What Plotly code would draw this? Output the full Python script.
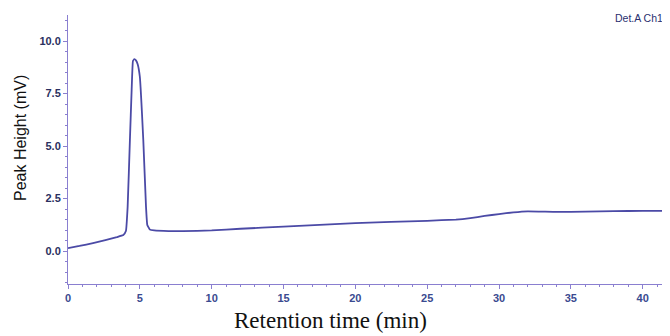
import plotly.graph_objects as go

# Retention time (min) and detector signal (mV)
time_min = [0.0, 0.8, 1.74, 2.6, 3.4, 3.85, 4.03, 4.15, 4.31, 4.43, 4.52, 4.62, 4.73, 4.85,
            5.0, 5.24, 5.43, 5.52, 5.7, 6.0, 7.0, 8.0, 10.0, 12.0, 15.0, 20.0, 25.0, 27.0,
            28.0, 29.0, 30.0, 31.0, 32.0, 34.0, 36.0, 38.0, 40.0, 42.0]
signal_mv = [0.14, 0.24, 0.38, 0.52, 0.66, 0.76, 0.95, 2.1, 5.3, 7.67, 9.05, 9.14, 9.08, 8.9,
             8.3, 5.29, 2.1, 1.24, 1.02, 0.98, 0.95, 0.95, 0.98, 1.06, 1.16, 1.33, 1.44, 1.5,
             1.57, 1.67, 1.76, 1.84, 1.89, 1.86, 1.88, 1.9, 1.91, 1.92]

x_ticks = [0, 5, 10, 15, 20, 25, 30, 35, 40]
y_ticks = [0.0, 2.5, 5.0, 7.5, 10.0]
y_tick_text = ["0.0", "2.5", "5.0", "7.5", "10.0"]

axis_color = "#8a7fd0"
line_color = "#4b4aa6"

# page body has an 8px default margin; size the figure so it fits the 670x336 window
OFF = 8
W, H = 670 - OFF, 336 - OFF
l, r, t, b = 68 - OFF, 0, 15 - OFF, 52
pw, ph = W - l - r, H - t - b


def px_to_paper(px, py):
    return (px - OFF - l) / pw, (H - b - (py - OFF)) / ph


fig = go.Figure()
fig.add_trace(go.Scatter(x=time_min, y=signal_mv, mode="lines",
                         line=dict(color=line_color, width=1.8, shape="spline", smoothing=0.3),
                         showlegend=False, hoverinfo="skip"))

ann_specs = [
    ("Peak Height (mV)", 20, 138, -90, 16, "#111111", "Liberation Sans, Arial, sans-serif", "normal"),
    ("Retention time (min)", 330, 321, 0, 23, "#111111", "Liberation Serif, Times New Roman, serif", "normal"),
    ("Det.A Ch1", 639, 18, 0, 10.5, "#2a3070", "Liberation Sans, Arial, sans-serif", "normal"),
]
annotations = []
for text, px, py, ang, size, col, fam, wt in ann_specs:
    ax, ay = px_to_paper(px, py)
    annotations.append(dict(text=text, x=ax, y=ay, xref="paper", yref="paper",
                            xanchor="center", yanchor="middle", showarrow=False,
                            textangle=ang, font=dict(size=size, color=col, family=fam, weight=wt)))

fig.update_layout(
    width=W, height=H,
    margin=dict(l=l, r=r, t=t, b=b),
    paper_bgcolor="white", plot_bgcolor="white",
    font=dict(family="Liberation Sans, Arial, sans-serif"),
    xaxis=dict(range=[0, 41.9], tickvals=x_ticks, ticks="outside", ticklen=4,
               tickcolor=axis_color, showline=True, linecolor=axis_color, linewidth=1,
               showgrid=False, zeroline=False,
               tickfont=dict(size=11, color="#3a4a90", weight="bold"),
               minor=dict(dtick=1, ticks="outside", ticklen=2, tickcolor=axis_color)),
    yaxis=dict(range=[-1.57, 11.24], tickvals=y_ticks, ticktext=y_tick_text, ticks="outside",
               ticklen=4, tickcolor=axis_color, showline=True, linecolor=axis_color, linewidth=1,
               showgrid=False, zeroline=False,
               tickfont=dict(size=11, color="#2a3060", weight="bold"),
               minor=dict(dtick=0.5, ticks="outside", ticklen=2, tickcolor=axis_color)),
    annotations=annotations,
)

fig.write_html("out.html")
